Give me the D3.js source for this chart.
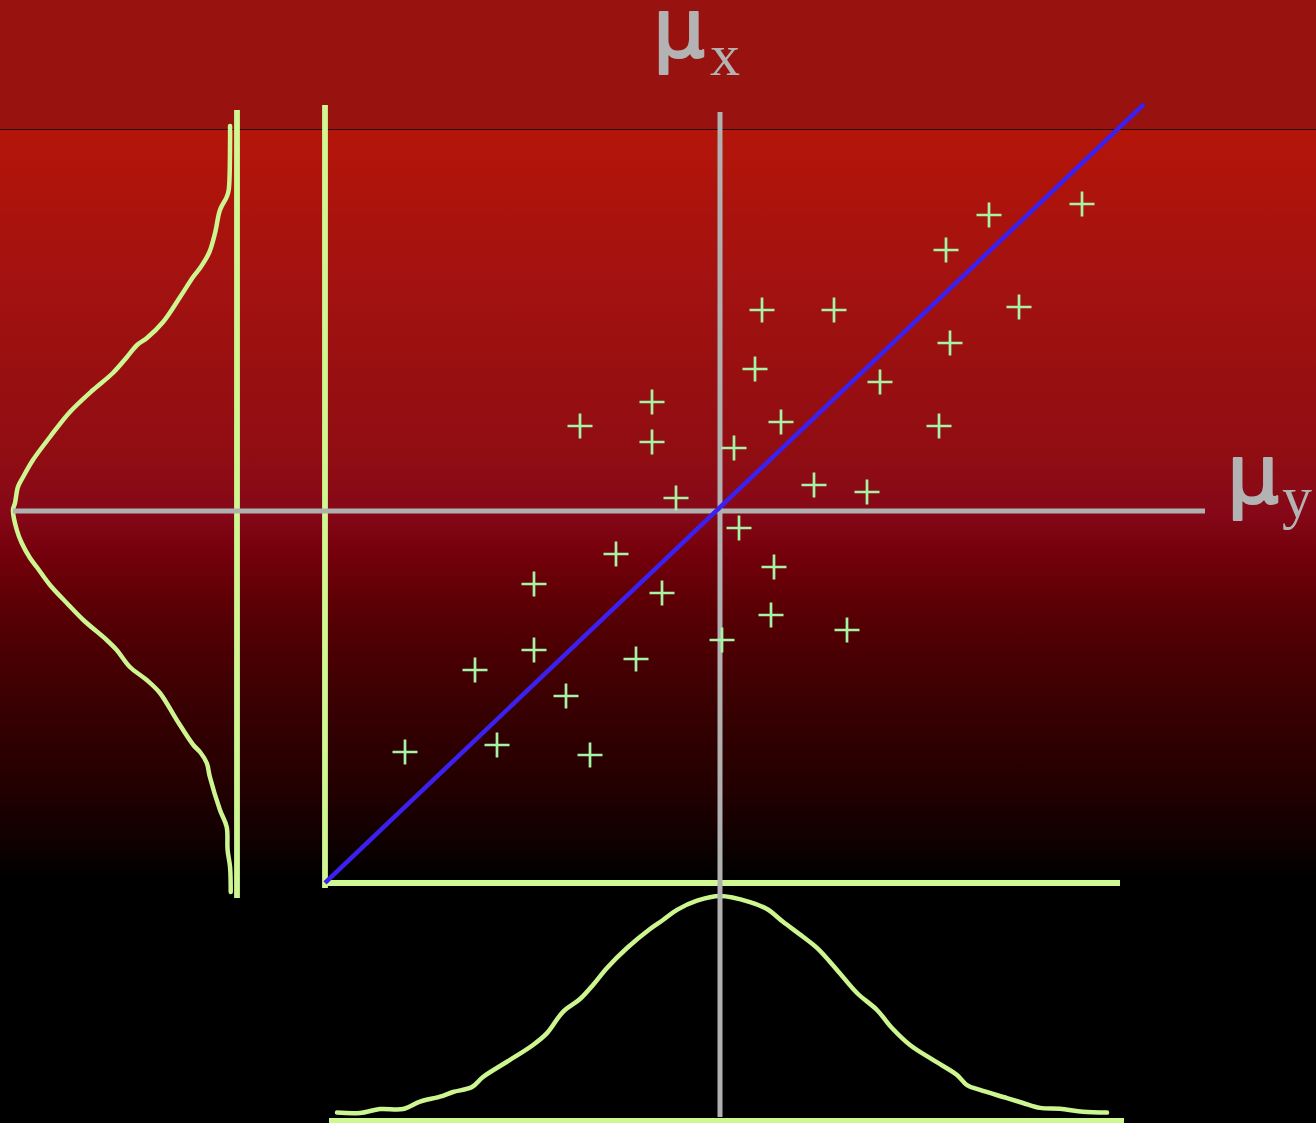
<!DOCTYPE html>
<html>
<head>
<meta charset="utf-8">
<script src="https://cdn.jsdelivr.net/npm/d3@7"></script>
<style>
  html, body { margin: 0; padding: 0; background: #000; }
  svg { display: block; }
</style>
</head>
<body>
<script>
// Bivariate sample with its regression line and the two marginal densities.

// Scatter sample (x, y), in standard units around the means
const sampleX = [3.62, 2.69, 2.26, 0.42, 1.14, 2.99, 0.35, 2.30, 1.60, 0.61, 2.19, 0.14,
  -0.68, -1.40, -0.68, -0.44, 0.19, -1.04, -1.86, -0.58, 0.02, -1.86, -2.45, -0.84,
  -1.54, -3.15, -2.23, -1.30, 0.94, 1.47, 0.54, 0.51, 1.27];
const sampleY = [3.07, 2.96, 2.61, 2.01, 2.01, 2.04, 1.42, 1.68, 1.29, 0.89, 0.85, 0.63,
  1.09, 0.85, 0.69, 0.13, -0.17, -0.43, -0.73, -0.82, -1.29, -1.39, -1.59, -1.48,
  -1.85, -2.41, -2.34, -2.44, 0.26, 0.19, -0.56, -1.04, -1.19];

// Means
const meanX = 0;
const meanY = 0;

// Regression line y = slope * x + intercept, drawn over this x range
const regSlope = 0.951;
const regIntercept = 0.037;
const regRange = [-3.95, 4.24];

// Marginal density of x (bottom curve)
const margXGrid = [-3.83, -3.60, -3.40, -3.17, -3.00, -2.80, -2.67, -2.48, -2.37, -2.13,
  -1.87, -1.73, -1.57, -1.40, -1.27, -1.13, -0.93, -0.70, -0.57, -0.43, -0.23, 0.00,
  0.30, 0.47, 0.63, 0.83, 0.97, 1.17, 1.37, 1.57, 1.72, 1.90, 2.13, 2.37, 2.47, 2.60,
  2.87, 3.03, 3.20, 3.40, 3.63, 3.87];
const margXDensity = [0.033, 0.031, 0.049, 0.049, 0.082, 0.104, 0.125, 0.147, 0.192, 0.260,
  0.335, 0.388, 0.483, 0.540, 0.603, 0.679, 0.768, 0.853, 0.893, 0.938, 0.979, 1.000,
  0.973, 0.942, 0.885, 0.818, 0.768, 0.670, 0.567, 0.491, 0.411, 0.335, 0.268, 0.201,
  0.156, 0.134, 0.098, 0.076, 0.054, 0.050, 0.037, 0.033];

// Marginal density of y (left curve)
const margYGrid = [3.85, 3.68, 3.21, 3.14, 3.01, 2.78, 2.58, 2.43, 2.34, 2.14, 1.89, 1.73,
  1.66, 1.54, 1.38, 1.21, 0.99, 0.74, 0.51, 0.34, 0.24, 0.08, 0.01, -0.19, -0.32, -0.47,
  -0.56, -0.74, -0.92, -1.09, -1.29, -1.39, -1.56, -1.69, -1.82, -2.09, -2.34, -2.41,
  -2.52, -2.66, -2.99, -3.16, -3.39, -3.56, -3.81];
const margYDensity = [0.031, 0.031, 0.037, 0.046, 0.076, 0.098, 0.125, 0.165, 0.196, 0.254,
  0.330, 0.402, 0.446, 0.491, 0.554, 0.643, 0.746, 0.835, 0.911, 0.955, 0.978, 0.991,
  1.000, 0.983, 0.961, 0.924, 0.894, 0.835, 0.760, 0.686, 0.582, 0.537, 0.478, 0.403,
  0.344, 0.269, 0.195, 0.165, 0.135, 0.121, 0.076, 0.046, 0.042, 0.031, 0.028];

// Labels
const labelMuX = { mu: "μ", sub: "x" };
const labelMuY = { mu: "μ", sub: "y" };

// ---- layout ----
const W = 1316, H = 1123;
const colors = {
  band: "#981210",
  grey: "#b0b0b0",
  axis: "#d0f892",
  curve: "#cdf590",
  reg: "#3b20f0",
  mark: "#a6f3a6"
};

const x = d3.scaleLinear().domain([-4, 4]).range([320, 1120]);
const y = d3.scaleLinear().domain([-4, 4]).range([911, 111]);
const densLeft = d3.scaleLinear().domain([0, 1]).range([237, 13]);
const densBottom = d3.scaleLinear().domain([0, 1]).range([1120, 896]);

const svg = d3.select("body").append("svg")
  .attr("width", W).attr("height", H)
  .attr("viewBox", `0 0 ${W} ${H}`);

// Background: flat top band over a red-to-black vertical gradient
const defs = svg.append("defs");
const grad = defs.append("linearGradient")
  .attr("id", "bg")
  .attr("gradientUnits", "userSpaceOnUse")
  .attr("x1", 0).attr("x2", 0).attr("y1", 130).attr("y2", 880);
[
  [0.00, "#b41509"],
  [0.20, "#a31210"],
  [0.43, "#900d12"],
  [0.51, "#860818"],
  [0.57, "#72000a"],
  [0.65, "#560004"],
  [0.76, "#3a0002"],
  [0.88, "#220000"],
  [0.96, "#0c0000"],
  [1.00, "#000000"]
].forEach(([o, c]) => grad.append("stop").attr("offset", o).attr("stop-color", c));

svg.append("rect").attr("x", 0).attr("y", 0).attr("width", W).attr("height", H).attr("fill", "#000");
svg.append("rect").attr("x", 0).attr("y", 129).attr("width", W).attr("height", H - 129).attr("fill", "url(#bg)");
svg.append("rect").attr("x", 0).attr("y", 0).attr("width", W).attr("height", 129).attr("fill", colors.band);
svg.append("line").attr("x1", 0).attr("x2", W).attr("y1", 129.5).attr("y2", 129.5)
  .attr("stroke", "#2a0000").attr("stroke-width", 1.2);

// Axis frame lines
const axes = svg.append("g").attr("stroke", colors.axis).attr("stroke-width", 5.8).attr("fill", "none");
// baseline of the y-marginal
axes.append("line")
  .attr("x1", densLeft(0)).attr("x2", densLeft(0))
  .attr("y1", y(4.01)).attr("y2", y(-3.87));
// scatter y axis
axes.append("line")
  .attr("x1", x(-3.95)).attr("x2", x(-3.95))
  .attr("y1", y(4.06)).attr("y2", y(-3.77));
// scatter x axis
axes.append("line")
  .attr("x1", x(-3.95)).attr("x2", x(4.0))
  .attr("y1", y(-3.72)).attr("y2", y(-3.72));
// baseline of the x-marginal
axes.append("line")
  .attr("x1", x(-3.91)).attr("x2", x(4.04))
  .attr("y1", densBottom(0) + 1).attr("y2", densBottom(0) + 1);

// Marginal densities
const curves = svg.append("g").attr("stroke", colors.curve).attr("stroke-width", 4.5)
  .attr("fill", "none").attr("stroke-linecap", "round").attr("stroke-linejoin", "round");

curves.append("path")
  .datum(margXGrid.map((v, i) => [v, margXDensity[i]]))
  .attr("d", d3.line().x(d => x(d[0])).y(d => densBottom(d[1])).curve(d3.curveCatmullRom.alpha(0.5)));

curves.append("path")
  .datum(margYGrid.map((v, i) => [v, margYDensity[i]]))
  .attr("d", d3.line().x(d => densLeft(d[1])).y(d => y(d[0])).curve(d3.curveCatmullRom.alpha(0.5)));

// Mean lines
const means = svg.append("g").attr("stroke", colors.grey).attr("stroke-width", 5);
means.append("line")
  .attr("x1", x(meanX)).attr("x2", x(meanX))
  .attr("y1", y(3.99)).attr("y2", y(-6.06));
means.append("line")
  .attr("x1", densLeft(1)).attr("x2", x(4.85))
  .attr("y1", y(meanY)).attr("y2", y(meanY));

// Regression line
svg.append("line")
  .attr("x1", x(regRange[0])).attr("y1", y(regSlope * regRange[0] + regIntercept))
  .attr("x2", x(regRange[1])).attr("y2", y(regSlope * regRange[1] + regIntercept))
  .attr("stroke", colors.reg).attr("stroke-width", 4.5);

// Sample points as plus marks
const arm = 12.5;
svg.append("g")
  .attr("stroke", colors.mark).attr("stroke-width", 2.7).attr("fill", "none")
  .selectAll("path")
  .data(sampleX.map((v, i) => [v, sampleY[i]]))
  .join("path")
  .attr("d", d => {
    const cx = x(d[0]), cy = y(d[1]);
    return `M${cx - arm},${cy}H${cx + arm}M${cx},${cy - arm}V${cy + arm}`;
  });

// Mean labels: heavy mu with a serif subscript
function meanLabel(lbl, muX, muBase, subX, subBase) {
  const g = svg.append("g").attr("fill", "#b3b3b3");
  g.append("text").attr("x", muX).attr("y", muBase)
    .attr("font-family", "DejaVu Sans").attr("font-size", 82)
    .attr("stroke", "#b3b3b3").attr("stroke-width", 2.2).attr("stroke-linejoin", "round")
    .text(lbl.mu);
  g.append("text").attr("x", subX).attr("y", subBase)
    .attr("font-family", "Liberation Serif").attr("font-size", 60).text(lbl.sub);
}
meanLabel(labelMuX, 653, 57, 710, 75);
meanLabel(labelMuY, 1227, 503, 1282, 517);
</script>
</body>
</html>
